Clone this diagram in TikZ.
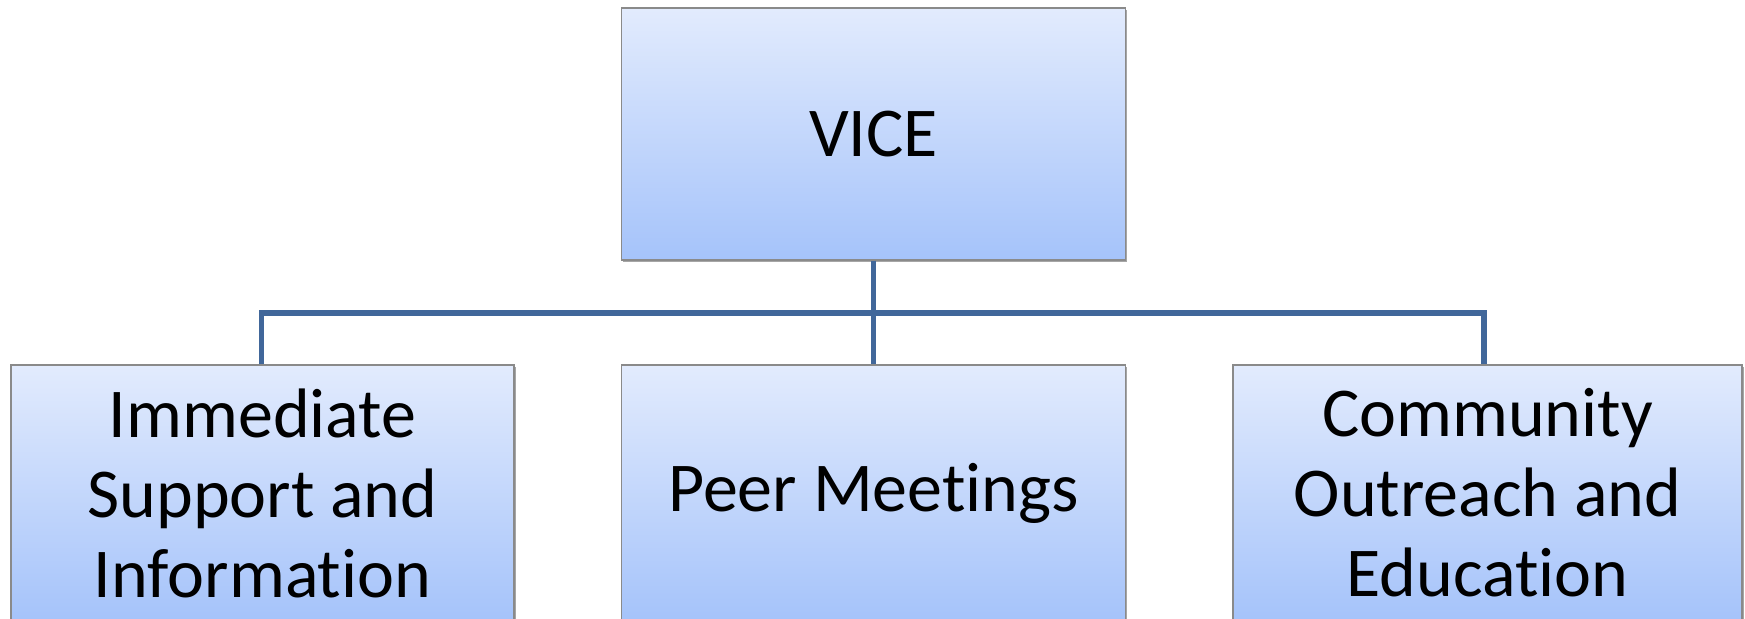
\documentclass[tikz,border=0pt]{standalone}
\usepackage{fontspec}
\setmainfont{Carlito}[Ligatures={NoCommon}]
\usetikzlibrary{shadows}
\definecolor{linkblue}{HTML}{41679A}
\definecolor{boxtop}{HTML}{E2EBFD}
\definecolor{boxbot}{HTML}{A5C3FA}
\definecolor{boxedge}{HTML}{8A8A8A}
\begin{document}
\begin{tikzpicture}[x=0.5pt,y=-0.5pt,
  box/.style={draw=boxedge, line width=0.6pt, top color=boxtop, bottom color=boxbot,
    minimum width=252pt, minimum height=126pt, inner sep=0pt, align=center,
    font=\fontsize{35}{40}\selectfont,
    drop shadow={shadow xshift=0.8pt, shadow yshift=-0.8pt, opacity=0.35, fill=black}},
  link/.style={draw=linkblue, line width=2.6pt}]
\useasboundingbox (0,0) rectangle (1745,618);
\clip (0,0) rectangle (1745,618);
\node[box] (vice) at (873.5,134) {VICE};
\node[box, minimum width=251.5pt, minimum height=128pt] (isi) at (262.5,493) {Immediate\\Support and\\Information};
\node[box, minimum height=128pt] (pm) at (873.5,493) {Peer Meetings};
\node[box, minimum width=254.5pt, minimum height=128pt] (oe) at (1487.5,493) {Community\\Outreach and\\Education};
\coordinate (bus) at (873.5,313);
\draw[link] (vice.south) -- (bus);
\draw[link] ([xshift=-0.5pt]isi.north) |- (bus) -| ([xshift=-1.8pt]oe.north);
\draw[link] (bus) -- (pm.north);
\end{tikzpicture}
\end{document}
